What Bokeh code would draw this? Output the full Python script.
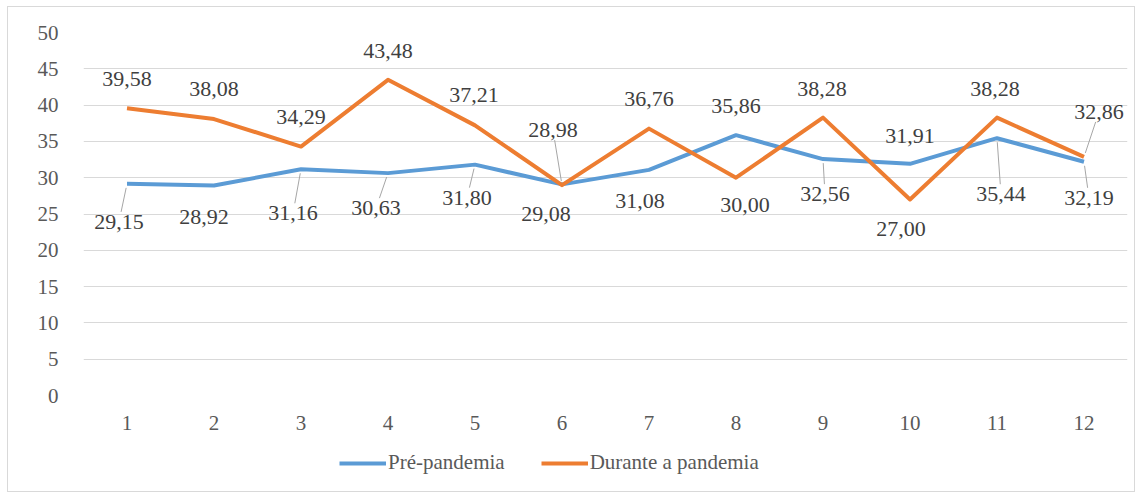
from bokeh.plotting import figure
from bokeh.layouts import column
from bokeh.models import ColumnDataSource, FixedTicker, Legend, LegendItem, Range1d
from bokeh.core.properties import value
from bokeh.embed import file_html
from bokeh.resources import INLINE

# Monthly values, before and during the pandemic
months = ["1", "2", "3", "4", "5", "6", "7", "8", "9", "10", "11", "12"]
pre_pandemia = [29.15, 28.92, 31.16, 30.63, 31.80, 29.08, 31.08, 35.86, 32.56, 31.91, 35.44, 32.19]
durante_pandemia = [39.58, 38.08, 34.29, 43.48, 37.21, 28.98, 36.76, 30.00, 38.28, 27.00, 38.28, 32.86]
y_ticks = [0, 5, 10, 15, 20, 25, 30, 35, 40, 45, 50]
series_names = ["Pré-pandemia", "Durante a pandemia"]

# Label placement: pixel offsets (dx, dy, dy>0 is downward) and whether a leader line is drawn
pre_label_pos = [(-8, 38, True), (-10, 31, False), (-8, 44, True), (-12, 35, True),
                 (-8, 33, True), (-16, 30, False), (-9, 31, False), (0, -29, False),
                 (2, 35, True), (0, -28, False), (4, 56, True), (5, 36, True)]
dur_label_pos = [(0, -29, False), (0, -30, False), (0, -30, False), (0, -29, False),
                 (-1, -30, False), (-9, -55, True), (0, -30, False), (9, 27, False),
                 (-1, -29, False), (-9, 30, False), (-2, -29, False), (15, -45, True)]

BLUE = "#5B9BD5"
ORANGE = "#ED7D31"
FONT = "'Liberation Serif', 'Times New Roman', serif"

W, H = 1126, 440
ML, MR, MT, MB = 75, 7, 25, 52
frame_w = W - ML - MR
frame_h = H - MT - MB
x0, x1 = 0.5, len(months) + 0.5
y0, y1 = 0, 50
px_x = frame_w / (x1 - x0)
px_y = frame_h / (y1 - y0)

p = figure(width=W, height=H, output_backend="svg", toolbar_location=None,
           x_range=Range1d(x0, x1), y_range=Range1d(y0, y1),
           min_border_left=ML, min_border_right=MR, min_border_top=MT, min_border_bottom=MB,
           background_fill_color="white", border_fill_color="white")
p.outline_line_color = None

xs = list(range(1, len(months) + 1))

# axes
p.xaxis.ticker = FixedTicker(ticks=xs)
p.xaxis.major_label_overrides = {i: m for i, m in zip(xs, months)}
p.yaxis.ticker = FixedTicker(ticks=y_ticks)
for ax in (p.xaxis[0], p.yaxis[0]):
    ax.axis_line_color = None
    ax.major_tick_line_color = None
    ax.minor_tick_line_color = None
    ax.major_label_text_font = FONT
    ax.major_label_text_font_size = "21px"
    ax.major_label_text_color = "#595959"
p.yaxis.major_label_standoff = 19
p.xaxis.major_label_standoff = 14

p.xgrid.visible = False
p.ygrid.ticker = FixedTicker(ticks=y_ticks)
p.ygrid.grid_line_color = "#D9D9D9"
p.ygrid.grid_line_width = 1

p.line(xs, pre_pandemia, line_color=BLUE, line_width=4, line_join="round")
p.line(xs, durante_pandemia, line_color=ORANGE, line_width=4, line_join="round")


def fmt(v):
    return f"{v:.2f}".replace(".", ",")


def labels_and_leaders(values, positions):
    lx, ly, lt = [], [], []
    sx0, sy0, sx1, sy1 = [], [], [], []
    for x, v, (dx, dy, lead) in zip(xs, values, positions):
        lx.append(x + dx / px_x)
        ly.append(v - dy / px_y)
        lt.append(fmt(v))
        if lead:
            s = 1 if dy > 0 else -1
            a = abs(dy)
            sdx, sdy = dx * 4 / a, s * 4
            edx, edy = dx * (a - 10) / a, dy - s * 10
            sx0.append(x + sdx / px_x)
            sy0.append(v - sdy / px_y)
            sx1.append(x + edx / px_x)
            sy1.append(v - edy / px_y)
    return (ColumnDataSource(dict(x=lx, y=ly, t=lt)),
            ColumnDataSource(dict(x0=sx0, y0=sy0, x1=sx1, y1=sy1)))


for vals, pos in ((pre_pandemia, pre_label_pos), (durante_pandemia, dur_label_pos)):
    lab_src, lead_src = labels_and_leaders(vals, pos)
    p.segment(x0="x0", y0="y0", x1="x1", y1="y1", source=lead_src,
              line_color="#A6A6A6", line_width=1)
    p.text(x="x", y="y", text="t", source=lab_src, text_align="center",
           text_baseline="middle", text_font=value(FONT), text_font_size="22px",
           text_color="#404040")

# legend strip under the chart (its frame is aligned with the chart's frame)
LH = 44
leg = figure(width=W, height=LH, output_backend="svg", toolbar_location=None,
             x_range=Range1d(0, 1), y_range=Range1d(0, 1),
             min_border=0, background_fill_color="white", border_fill_color="white")
leg.axis.visible = False
leg.grid.visible = False
leg.outline_line_color = None
# key lines kept outside the visible range; only their legend swatches show
k_pre = leg.line([-2, -1], [-2, -1], line_color=BLUE, line_width=4)
k_dur = leg.line([-2, -1], [-2, -1], line_color=ORANGE, line_width=4)
legend = Legend(items=[LegendItem(label=series_names[0], renderers=[k_pre]),
                       LegendItem(label=series_names[1], renderers=[k_dur])],
                orientation="horizontal", location=(256, 16),
                glyph_width=47, glyph_height=20, label_standoff=2, spacing=36,
                padding=0, margin=0, border_line_color=None,
                background_fill_alpha=0, label_text_font=FONT,
                label_text_font_size="21px", label_text_color="#595959",
                label_height=24)
leg.add_layout(legend)

layout = column(p, leg, spacing=0)
layout.margin = (6, 0, 0, 7)
layout.styles = {"border": "1px solid #D9D9D9", "background-color": "white"}

open("out.html", "w").write(file_html(layout, INLINE))
